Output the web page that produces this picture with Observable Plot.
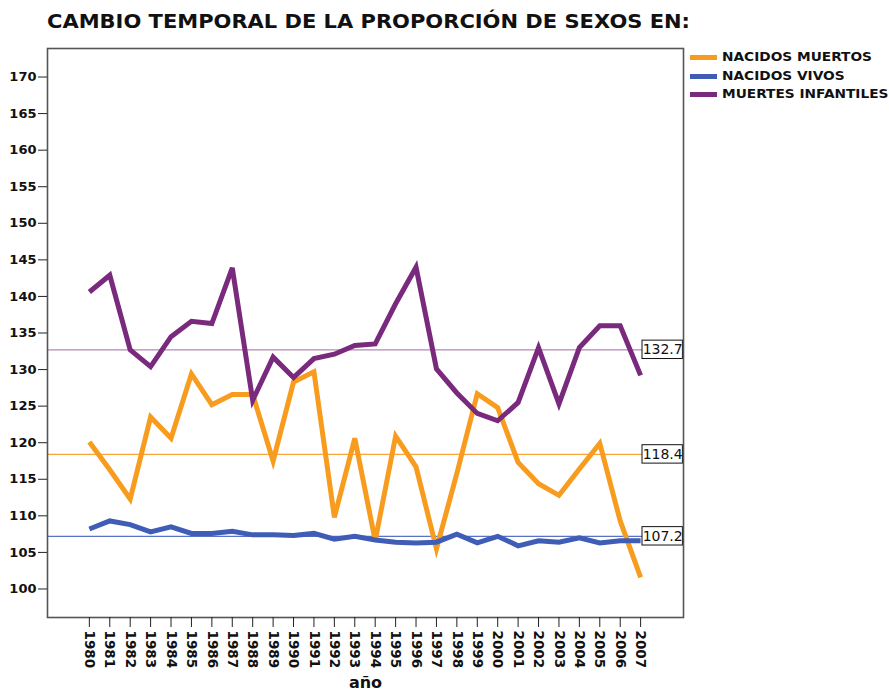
<!DOCTYPE html>
<html>
<head>
<meta charset="utf-8">
<script src="https://cdn.jsdelivr.net/npm/d3@7"></script>
<script src="https://cdn.jsdelivr.net/npm/@observablehq/plot@0.6"></script>
<style>
  html, body { margin: 0; padding: 0; background: #fff; }
  #wrap { position: relative; width: 889px; height: 693px; overflow: hidden; }
  #title { position: absolute; left: 47px; top: 12px; font: bold 19px/19px "DejaVu Sans", sans-serif; color: #111; white-space: nowrap; transform-origin: 0 0; }
  #legend { position: absolute; left: 690px; top: 48px; font: bold 12.5px/18.7px "DejaVu Sans", sans-serif; color: #111; white-space: nowrap; }
  .row { display: flex; align-items: center; height: 18.7px; }
  .sw { width: 27px; height: 5px; margin-right: 5px; }
  .lt { display: inline-block; transform-origin: 0 50%; }
</style>
</head>
<body>
<div id="wrap">
  <div id="title">CAMBIO TEMPORAL DE LA PROPORCIÓN DE SEXOS EN:</div>
  <div id="legend"></div>
  <div id="chart"></div>
</div>
<script>
// ---- data ----
const years = [1980,1981,1982,1983,1984,1985,1986,1987,1988,1989,1990,1991,1992,1993,1994,1995,1996,1997,1998,1999,2000,2001,2002,2003,2004,2005,2006,2007];
const seriesNames = ["NACIDOS MUERTOS", "NACIDOS VIVOS", "MUERTES INFANTILES"];
const seriesColors = ["#f89c20", "#3f5cb6", "#7a2a7d"];
const refColors = ["#f7a43a", "#5a72c6", "#b387b8"];
const nacidosMuertos = [120.1,116.3,112.3,123.5,120.6,129.4,125.2,126.6,126.6,117.5,128.3,129.7,109.8,120.6,106.6,120.9,116.7,105.5,115.8,126.7,124.8,117.3,114.4,112.8,116.4,119.9,109.3,101.6];
const nacidosVivos = [108.2,109.3,108.8,107.8,108.5,107.6,107.6,107.9,107.4,107.4,107.3,107.6,106.8,107.2,106.7,106.4,106.3,106.4,107.5,106.3,107.2,105.9,106.6,106.4,107.0,106.3,106.6,106.6];
const muertesInfantiles = [140.6,142.9,132.7,130.4,134.5,136.6,136.3,143.9,125.8,131.7,128.9,131.5,132.1,133.3,133.5,139.0,144.0,130.1,126.8,124.0,123.0,125.5,133.0,125.3,133.0,136.0,136.0,129.2];
const refValues = [118.4, 107.2, 132.7];
const yTicks = [100,105,110,115,120,125,130,135,140,145,150,155,160,165,170];
const xLabel = "año";

// ---- build table ----
const seriesValues = [nacidosMuertos, nacidosVivos, muertesInfantiles];
const rows = [];
seriesNames.forEach((s, i) => years.forEach((y, j) => rows.push({series: s, year: y, value: seriesValues[i][j]})));
const refs = refValues.map((v, i) => ({value: v, color: refColors[i]}));

const xDom = [1977.95, 2009.1];
const yDom = [96.1, 173.9];
const pxPerYear = (683 - 47) / (xDom[1] - xDom[0]);
const pxPerUnit = (617 - 48) / (yDom[1] - yDom[0]);
const boxLeft = xDom[1] - 41 / pxPerYear;
const boxRight = xDom[1] - 0.6 / pxPerYear;
const boxHalf = 9.2 / pxPerUnit;

const chart = Plot.plot({
  width: 889,
  height: 693,
  marginLeft: 47,
  marginRight: 206,
  marginTop: 48,
  marginBottom: 76,
  style: {fontFamily: "DejaVu Sans", background: "transparent", color: "#111"},
  x: {domain: xDom},
  y: {domain: yDom},
  color: {domain: seriesNames, range: seriesColors},
  marks: [
    Plot.ruleY(refs, {y: "value", stroke: "color", strokeWidth: 1.2}),
    Plot.line(rows, {x: "year", y: "value", stroke: "series", z: "series", strokeWidth: 5, strokeLinejoin: "miter", strokeLinecap: "butt", strokeMiterlimit: 4}),
    Plot.rect(refs, {x1: () => boxLeft, x2: () => boxRight, y1: d => d.value - boxHalf, y2: d => d.value + boxHalf, fill: "white", stroke: "#111", strokeWidth: 1}),
    Plot.text(refs, {x: () => (boxLeft + boxRight) / 2, y: "value", text: d => d.value.toFixed(1), fontSize: 14, fontFamily: "DejaVu Sans", fill: "#111"}),
    Plot.frame({stroke: "#555", strokeWidth: 1.6}),
    Plot.axisY({ticks: yTicks, tickSize: 9, tickPadding: 2, tickFormat: d => String(d), fontSize: 13, fontWeight: "bold", label: null, stroke: "#222"}),
    Plot.axisX({ticks: years, tickSize: 10, tickPadding: 3, tickRotate: 90, tickFormat: d => String(d), fontSize: 13.5, fontWeight: "bold", label: null, stroke: "#222"}),
    Plot.text([xLabel], {frameAnchor: "bottom", dy: 70, text: d => d, lineAnchor: "bottom", fontSize: 16, fontWeight: "bold", fill: "#111"})
  ]
});
const holder = document.getElementById("chart");
chart.style.position = "absolute";
chart.style.left = "0px";
chart.style.top = "0px";
holder.appendChild(chart);

// title stretch
const title = document.getElementById("title");
const tw = title.getBoundingClientRect().width;
title.style.transform = `scaleX(${643 / tw})`;

// legend
const legend = document.getElementById("legend");
seriesNames.forEach((s, i) => {
  const r = document.createElement("div");
  r.className = "row";
  const sw = document.createElement("div");
  sw.className = "sw";
  sw.style.background = seriesColors[i];
  const t = document.createElement("span");
  t.className = "lt";
  t.textContent = s;
  r.appendChild(sw); r.appendChild(t);
  legend.appendChild(r);
});
const first = legend.querySelector(".lt");
const lw = first.getBoundingClientRect().width;
legend.querySelectorAll(".lt").forEach(el => el.style.transform = `scaleX(${150 / lw})`);
</script>
</body>
</html>
